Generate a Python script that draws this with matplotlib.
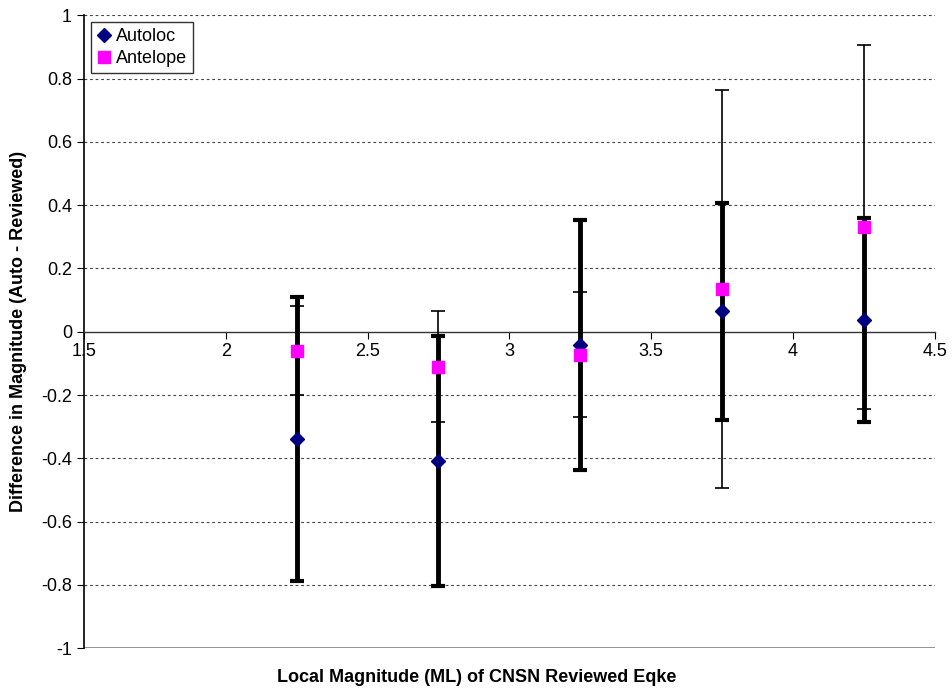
import numpy as np
import matplotlib.pyplot as plt

plt.rcParams['font.family'] = ['Liberation Sans', 'DejaVu Sans']

# 数据
ml = [2.25, 2.75, 3.25, 3.75, 4.25]
autoloc = [-0.338, -0.409, -0.041, 0.064, 0.037]
autoloc_err = [0.449, 0.396, 0.395, 0.343, 0.322]
antelope = [-0.060, -0.110, -0.073, 0.135, 0.332]
antelope_err = [0.140, 0.175, 0.197, 0.630, 0.575]

fig = plt.figure(figsize=(9.53, 6.94), dpi=100)
ax = fig.add_axes([0.088, 0.066, 0.893, 0.912])

# 误差线
ax.errorbar(ml, antelope, yerr=antelope_err, fmt='none', ecolor='black',
            elinewidth=1.2, capsize=5, capthick=1.2, zorder=3)
ax.errorbar(ml, autoloc, yerr=autoloc_err, fmt='none', ecolor='black',
            elinewidth=3.5, capsize=5, capthick=3.0, zorder=4)

ax.plot(ml, autoloc, 'D', color='#000080', markersize=7.5, label='Autoloc', zorder=5)
ax.plot(ml, antelope, 's', color='#FF00FF', markersize=8, label='Antelope', zorder=5)

ax.set_xlim(1.5, 4.5)
ax.set_ylim(-1, 1)
ax.set_yticks(np.arange(-1, 1.01, 0.2))
ax.set_yticklabels(['-1', '-0.8', '-0.6', '-0.4', '-0.2', '0', '0.2', '0.4', '0.6', '0.8', '1'])
ax.set_xticks([1.5, 2, 2.5, 3, 3.5, 4, 4.5])
ax.set_xticklabels(['1.5', '2', '2.5', '3', '3.5', '4', '4.5'])

# 水平网格线
for v in np.arange(-0.8, 1.01, 0.2):
    if abs(v) > 1e-9:
        ax.axhline(v, color='#444444', lw=0.8, ls=(0, (2.5, 2.5)), zorder=1)
ax.axhline(-1, color='gray', lw=1.2, zorder=1)

ax.spines['top'].set_visible(False)
ax.spines['right'].set_visible(False)
ax.spines['bottom'].set_position(('data', 0))
ax.spines['left'].set_linewidth(1.2)
ax.spines['bottom'].set_linewidth(1.0)
ax.spines['bottom'].set_color('#333333')

ax.tick_params(axis='both', direction='out', length=5, labelsize=13)
ax.tick_params(axis='x', pad=3)

ax.set_ylabel('Difference in Magnitude (Auto - Reviewed)', fontsize=13, fontweight='bold', labelpad=10)
fig.text(0.5, 0.018, 'Local Magnitude (ML) of CNSN Reviewed Eqke', ha='center',
         fontsize=13, fontweight='bold')

leg = ax.legend(loc='upper left', fontsize=13, frameon=True, fancybox=False,
                edgecolor='black', handlelength=0.8, handletextpad=0.3,
                borderpad=0.3, labelspacing=0.3, borderaxespad=0.4)
leg.get_frame().set_linewidth(1.0)

fig.savefig('out.png', dpi=100)
